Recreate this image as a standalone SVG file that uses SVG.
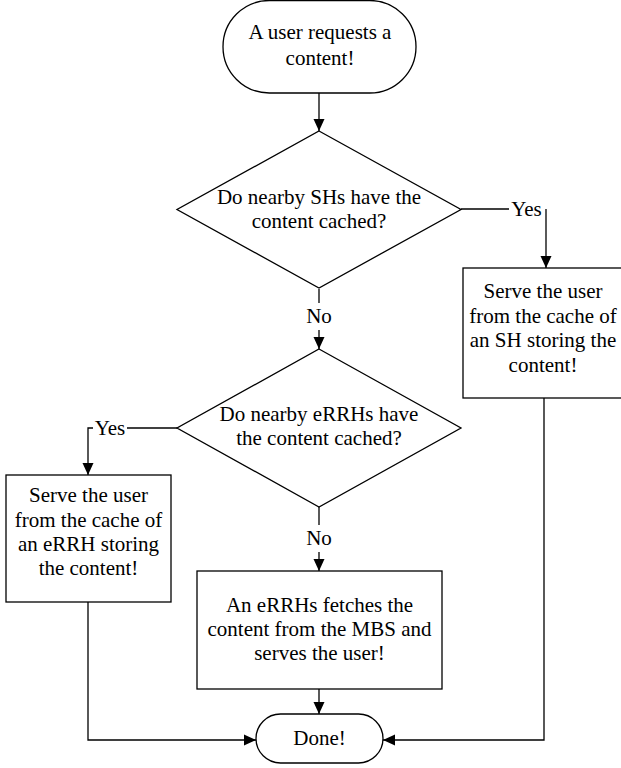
<svg xmlns="http://www.w3.org/2000/svg" width="621" height="768" viewBox="0 0 621 768" font-family="Liberation Serif, DejaVu Serif, serif">
<style>
.s{fill:#fff;stroke:#000;stroke-width:1.3}
.c{fill:none;stroke:#000;stroke-width:1.3}
.t{font-family:'Liberation Serif','DejaVu Serif',serif;font-size:21px;fill:#000;text-anchor:middle}
</style>
<defs>
<marker id="ah" markerUnits="userSpaceOnUse" markerWidth="12" markerHeight="12" viewBox="0 0 12 12" refX="12" refY="6" orient="auto">
<path d="M0,0.5 L12,6 L0,11.5 Z" fill="#000"/>
</marker>
</defs>
<g id="connectors">
<path class="c" d="M319,93 V131" marker-end="url(#ah)"/>
<path class="c" d="M461,209 H509"/>
<path class="c" d="M546,209 V268" marker-end="url(#ah)"/>
<path class="c" d="M319,289 V303"/>
<path class="c" d="M319,330 V349" marker-end="url(#ah)"/>
<path class="c" d="M177,428 H127"/>
<path class="c" d="M93,428 H88 V475" marker-end="url(#ah)"/>
<path class="c" d="M319,507 V525"/>
<path class="c" d="M319,552 V571" marker-end="url(#ah)"/>
<path class="c" d="M319,689 V714" marker-end="url(#ah)"/>
<path class="c" d="M88,602 V740 H256" marker-end="url(#ah)"/>
<path class="c" d="M544,398 V740 H383" marker-end="url(#ah)"/>
<text class="t" x="526.5" y="216">Yes</text>
<text class="t" x="110" y="435">Yes</text>
<text class="t" x="319" y="323">No</text>
<text class="t" x="319" y="545">No</text>
</g>
<g id="start">
<rect class="s" x="223" y="0.5" width="193" height="92.5" rx="46.25"/>
<text class="t" x="320" y="39">A user requests a</text>
<text class="t" x="320" y="65">content!</text>
</g>
<g id="decision1">
<polygon class="s" points="319,131 461,209.5 319,288 177,209.5"/>
<text class="t" x="319" y="204">Do nearby SHs have the</text>
<text class="t" x="319" y="228">content cached?</text>
</g>
<g id="serveSH">
<rect class="s" x="463" y="268" width="160" height="130"/>
<text class="t" x="543" y="298">Serve the user</text>
<text class="t" x="543" y="323">from the cache of</text>
<text class="t" x="543" y="347">an SH storing the</text>
<text class="t" x="543" y="372">content!</text>
</g>
<g id="decision2">
<polygon class="s" points="319,349 461,428 319,507 177,428"/>
<text class="t" x="319" y="421">Do nearby eRRHs have</text>
<text class="t" x="319" y="445">the content cached?</text>
</g>
<g id="serveERRH">
<rect class="s" x="6" y="475" width="165" height="127"/>
<text class="t" x="88.5" y="502">Serve the user</text>
<text class="t" x="88.5" y="527">from the cache of</text>
<text class="t" x="88.5" y="551">an eRRH storing</text>
<text class="t" x="88.5" y="575">the content!</text>
</g>
<g id="fetchMBS">
<rect class="s" x="197" y="571" width="245" height="118"/>
<text class="t" x="319.5" y="612">An eRRHs fetches the</text>
<text class="t" x="319.5" y="636">content from the MBS and</text>
<text class="t" x="319.5" y="660">serves the user!</text>
</g>
<g id="done">
<rect class="s" x="256" y="714" width="127" height="49" rx="24.5"/>
<text class="t" x="319.5" y="745">Done!</text>
</g>
</svg>
